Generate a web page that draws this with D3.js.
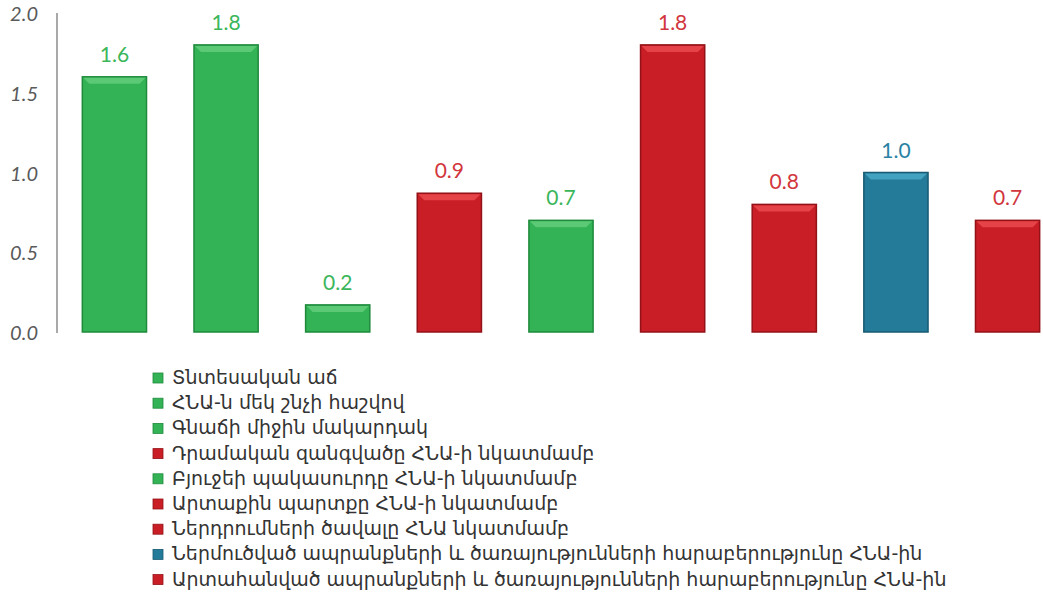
<!DOCTYPE html>
<html>
<head>
<meta charset="UTF-8">
<title>Indicators</title>
<script src="https://d3js.org/d3.v7.min.js"></script>
<style>
  body { margin: 0; background: #fff; }
  .tick-label { font-family: "Lato", sans-serif; font-style: italic; font-size: 20px; fill: #5a5a5a; }
  .value-label { font-family: "Lato", sans-serif; font-size: 21px; }
  .legend-text { font-family: "DejaVu Sans", sans-serif; font-size: 19px; fill: #333; }
</style>
</head>
<body>
<script>
// data
var categories = [
  "Տնտեսական աճ",
  "ՀՆԱ-ն մեկ շնչի հաշվով",
  "Գնաճի միջին մակարդակ",
  "Դրամական զանգվածը ՀՆԱ-ի նկատմամբ",
  "Բյուջեի պակասուրդը  ՀՆԱ-ի նկատմամբ",
  "Արտաքին պարտքը ՀՆԱ-ի նկատմամբ",
  "Ներդրումների ծավալը ՀՆԱ նկատմամբ",
  "Ներմուծված ապրանքների և ծառայությունների հարաբերությունը ՀՆԱ-ին",
  "Արտահանված ապրանքների և ծառայությունների հարաբերությունը ՀՆԱ-ին"
];
var values = [1.6, 1.8, 0.17, 0.87, 0.7, 1.8, 0.8, 1.0, 0.7];
var groups = ["g", "g", "g", "r", "g", "r", "r", "b", "r"];
var yTicks = [0, 0.5, 1.0, 1.5, 2.0];

var palette = {
  g: { fill: "#33b355", light: "#5fcb7a", dark: "#1f8a3c", text: "#3bb65b" },
  r: { fill: "#c91e26", light: "#e8474d", dark: "#931218", text: "#d2363d" },
  b: { fill: "#237b99", light: "#47a6c4", dark: "#175a72", text: "#2a82a3" }
};

var width = 1043, height = 592;
var svg = d3.select("body").append("svg")
    .attr("width", width)
    .attr("height", height);

var x = d3.scaleBand()
    .domain(d3.range(values.length))
    .range([60, 1062])
    .paddingInner(0.425)
    .paddingOuter(0.2);

var y = d3.scaleLinear()
    .domain([0, 2])
    .range([332, 13]);

// y axis line + labels
svg.append("line")
    .attr("x1", 57).attr("x2", 57)
    .attr("y1", y(2)).attr("y2", y(0) + 1)
    .attr("stroke", "#8c8c8c").attr("stroke-width", 1.5);

svg.selectAll(".tick-label")
    .data(yTicks)
  .enter().append("text")
    .attr("class", "tick-label")
    .attr("x", 38)
    .attr("y", function(d) { return y(d) + 8; })
    .attr("text-anchor", "end")
    .text(function(d) { return d3.format(".1f")(d); });

// bars
var bars = svg.selectAll(".bar")
    .data(values)
  .enter().append("g")
    .attr("class", "bar");

bars.append("rect")
    .attr("x", function(d, i) { return x(i); })
    .attr("y", function(d) { return y(d); })
    .attr("width", x.bandwidth())
    .attr("height", function(d) { return y(0) - y(d); })
    .attr("fill", function(d, i) { return palette[groups[i]].fill; })
    .attr("stroke", function(d, i) { return palette[groups[i]].dark; })
    .attr("stroke-width", 1.5);

// bevel at top of each bar
bars.append("path")
    .attr("d", function(d, i) {
      var x0 = x(i) + 1, x1 = x(i) + x.bandwidth() - 1, t = y(d) + 1;
      return "M" + x0 + "," + t + "L" + x1 + "," + t +
             "L" + (x1 - 6) + "," + (t + 6) + "L" + (x0 + 6) + "," + (t + 6) + "Z";
    })
    .attr("fill", function(d, i) { return palette[groups[i]].light; })
    .attr("opacity", 0.9);

bars.append("text")
    .attr("class", "value-label")
    .attr("x", function(d, i) { return x(i) + x.bandwidth() / 2; })
    .attr("y", function(d) { return y(d) - 15; })
    .attr("text-anchor", "middle")
    .attr("fill", function(d, i) { return palette[groups[i]].text; })
    .text(function(d) { return d3.format(".1f")(d); });

// legend
var legend = svg.selectAll(".legend")
    .data(categories)
  .enter().append("g")
    .attr("class", "legend")
    .attr("transform", function(d, i) { return "translate(153," + (378 + i * 25.2) + ")"; });

legend.append("rect")
    .attr("x", 0).attr("y", -5)
    .attr("width", 10).attr("height", 10)
    .attr("fill", function(d, i) { return palette[groups[i]].fill; })
    .attr("stroke", function(d, i) { return palette[groups[i]].dark; })
    .attr("stroke-width", 0.8);

legend.append("text")
    .attr("class", "legend-text")
    .attr("x", 19)
    .attr("y", 6)
    .text(function(d) { return d; });
</script>
</body>
</html>
